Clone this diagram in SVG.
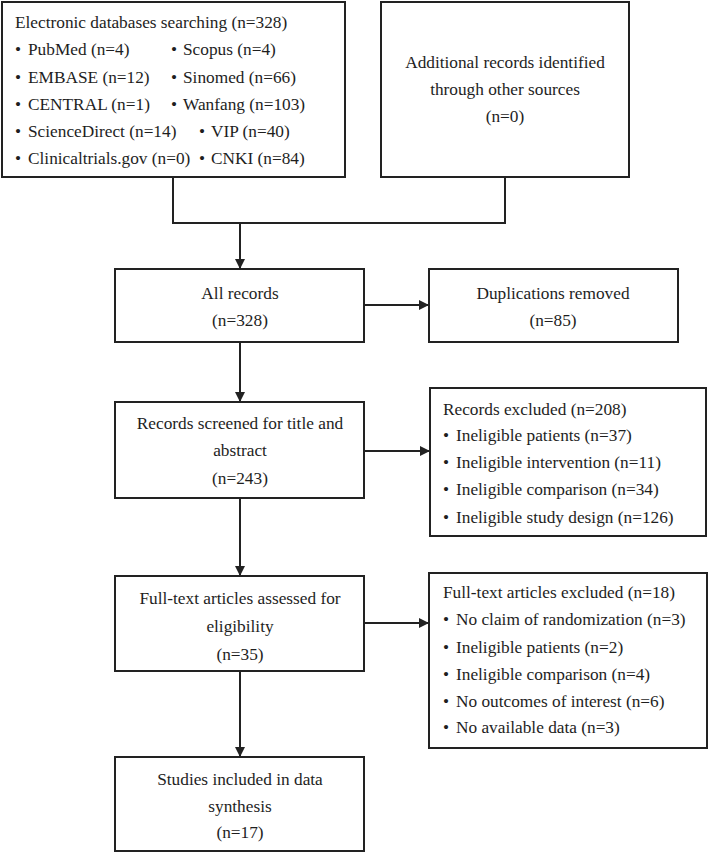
<svg xmlns="http://www.w3.org/2000/svg" width="709" height="853" viewBox="0 0 709 853">
<style>
  .box { fill: #ffffff; stroke: #222222; stroke-width: 2; }
  .ln { fill: none; stroke: #222222; stroke-width: 2; }
  text { font-family: "Liberation Serif", "Times New Roman", serif; font-size: 17.3px; fill: #1e1e1e; }
  .c { text-anchor: middle; }
</style>
<defs>
  <marker id="ah" viewBox="0 0 10 10" refX="10" refY="5" markerWidth="10" markerHeight="10" markerUnits="userSpaceOnUse" orient="auto">
    <path d="M0,0 L10,5 L0,10 z" fill="#222222"/>
  </marker>
</defs>
<rect width="709" height="853" fill="#ffffff"/>

<g id="connectors">
  <path class="ln" d="M173,177 V223 H505 V177"/>
  <path class="ln" d="M240,223 V269" marker-end="url(#ah)"/>
  <path class="ln" d="M364,305 H429" marker-end="url(#ah)"/>
  <path class="ln" d="M240,342 V402" marker-end="url(#ah)"/>
  <path class="ln" d="M364,451 H430" marker-end="url(#ah)"/>
  <path class="ln" d="M240,498 V576" marker-end="url(#ah)"/>
  <path class="ln" d="M364,623 H429" marker-end="url(#ah)"/>
  <path class="ln" d="M240,671 V757" marker-end="url(#ah)"/>
</g>

<g id="electronic">
  <rect class="box" x="2" y="2" width="343" height="175"/>
  <text x="15" y="28">Electronic databases searching (n=328)</text>
  <text y="55"><tspan x="15">•</tspan><tspan x="28">PubMed (n=4)</tspan><tspan x="171">•</tspan><tspan x="183">Scopus (n=4)</tspan></text>
  <text y="83"><tspan x="15">•</tspan><tspan x="28">EMBASE (n=12)</tspan><tspan x="171">•</tspan><tspan x="183">Sinomed (n=66)</tspan></text>
  <text y="110"><tspan x="15">•</tspan><tspan x="28">CENTRAL (n=1)</tspan><tspan x="171">•</tspan><tspan x="183">Wanfang (n=103)</tspan></text>
  <text y="137"><tspan x="15">•</tspan><tspan x="28">ScienceDirect (n=14)</tspan><tspan x="199">•</tspan><tspan x="211">VIP (n=40)</tspan></text>
  <text y="164"><tspan x="15">•</tspan><tspan x="28">Clinicaltrials.gov (n=0)</tspan><tspan x="199">•</tspan><tspan x="211">CNKI (n=84)</tspan></text>
</g>

<g id="additional">
  <rect class="box" x="381" y="2" width="248" height="175"/>
  <text class="c" x="505" y="68">Additional records identified</text>
  <text class="c" x="505" y="95">through other sources</text>
  <text class="c" x="505" y="122">(n=0)</text>
</g>

<g id="all-records">
  <rect class="box" x="115" y="269" width="249" height="73"/>
  <text class="c" x="240" y="299">All records</text>
  <text class="c" x="240" y="326">(n=328)</text>
</g>

<g id="duplications">
  <rect class="box" x="429" y="269" width="249" height="73"/>
  <text class="c" x="553" y="299">Duplications removed</text>
  <text class="c" x="553" y="326">(n=85)</text>
</g>

<g id="screened">
  <rect class="box" x="115" y="402" width="249" height="96"/>
  <text class="c" x="240" y="429">Records screened for title and</text>
  <text class="c" x="240" y="456">abstract</text>
  <text class="c" x="240" y="484">(n=243)</text>
</g>

<g id="records-excluded">
  <rect class="box" x="430" y="388" width="276" height="148"/>
  <text x="443" y="415">Records excluded (n=208)</text>
  <text y="441"><tspan x="443">•</tspan><tspan x="456">Ineligible patients (n=37)</tspan></text>
  <text y="468"><tspan x="443">•</tspan><tspan x="456">Ineligible intervention (n=11)</tspan></text>
  <text y="495"><tspan x="443">•</tspan><tspan x="456">Ineligible comparison (n=34)</tspan></text>
  <text y="523"><tspan x="443">•</tspan><tspan x="456">Ineligible study design (n=126)</tspan></text>
</g>

<g id="fulltext">
  <rect class="box" x="115" y="576" width="249" height="95"/>
  <text class="c" x="240" y="604">Full-text articles assessed for</text>
  <text class="c" x="240" y="632">eligibility</text>
  <text class="c" x="240" y="660">(n=35)</text>
</g>

<g id="fulltext-excluded">
  <rect class="box" x="429" y="573" width="278" height="175"/>
  <text x="443" y="598">Full-text articles excluded (n=18)</text>
  <text y="625"><tspan x="443">•</tspan><tspan x="456">No claim of randomization (n=3)</tspan></text>
  <text y="653"><tspan x="443">•</tspan><tspan x="456">Ineligible patients (n=2)</tspan></text>
  <text y="680"><tspan x="443">•</tspan><tspan x="456">Ineligible comparison (n=4)</tspan></text>
  <text y="707"><tspan x="443">•</tspan><tspan x="456">No outcomes of interest (n=6)</tspan></text>
  <text y="733"><tspan x="443">•</tspan><tspan x="456">No available data (n=3)</tspan></text>
</g>

<g id="included">
  <rect class="box" x="115" y="757" width="249" height="94"/>
  <text class="c" x="240" y="785">Studies included in data</text>
  <text class="c" x="240" y="812">synthesis</text>
  <text class="c" x="240" y="838">(n=17)</text>
</g>
</svg>
